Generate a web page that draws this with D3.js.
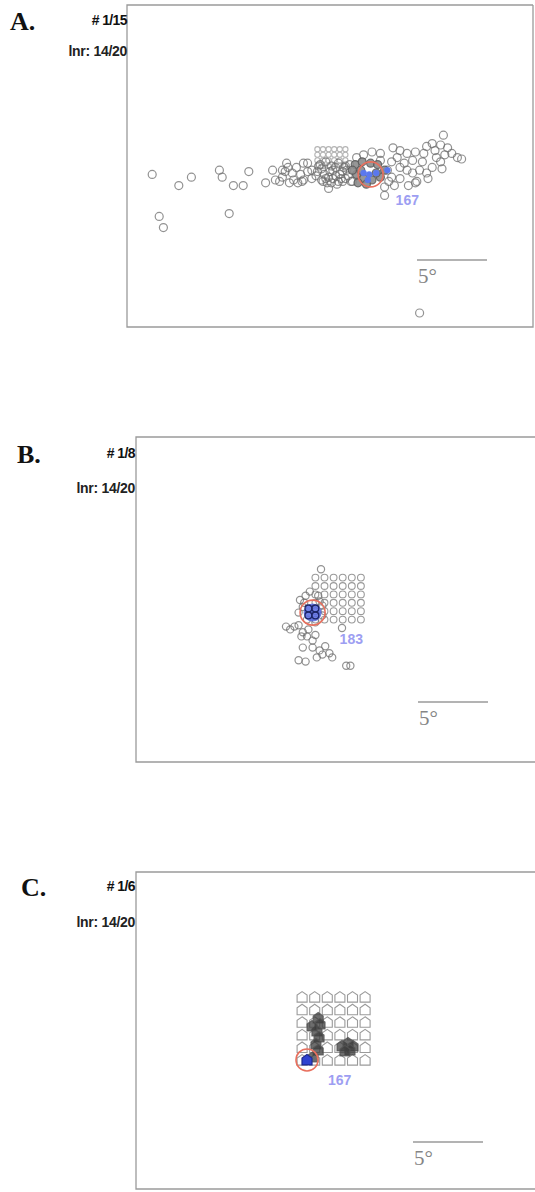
<!DOCTYPE html>
<html>
<head>
<meta charset="utf-8">
<script src="https://cdn.jsdelivr.net/npm/d3@7/dist/d3.min.js"></script>
<style>
  body { margin: 0; background: #fff; }
</style>
</head>
<body>
<div id="fig"></div>
<script>
// ---- data (degrees of visual angle, relative to the panel centre, y up) ----
var panelLabels = ["A.", "B.", "C."];
var trialLabels = ["# 1/15", "# 1/8", "# 1/6"];
var lnrLabels = ["lnr: 14/20", "lnr: 14/20", "lnr: 14/20"];
var targetLabels = ["167", "183", "167"];
var scaleBarDeg = 5;

// panel A
var gridAx = [-0.9, -0.5, -0.1, 0.3, 0.7, 1.1];
var gridAy = [1.2, 0.8, 0.4, 0.0];
var gazeA = [
    [-12.7, -0.6], [-10.8, -1.4], [-9.9, -0.8], [-7.9, -0.3], [-7.7, -0.8], [-6.9, -1.4],
    [-6.2, -1.4], [-5.8, -0.4], [-12.2, -3.6], [-11.9, -4.4], [-7.2, -3.4], [6.4, -10.5],
    [-4.6, -1.2], [-4.1, -0.3], [-3.9, -1.0], [-3.6, -1.1], [-3.4, -0.8], [-3.2, -0.4],
    [-3.0, -0.1], [-2.7, -0.5], [-2.6, -1.0], [-2.4, -0.1], [-2.1, -0.6], [-1.9, -1.0],
    [-1.6, 0.2], [-1.6, -0.4], [-1.3, -0.9], [-2.3, -1.2], [-2.9, -1.2], [-3.1, 0.2],
    [-3.4, -0.3], [-1.9, 0.2], [-2.0, -1.1], [-1.3, -0.3],
    [-0.7, 0.1], [-0.3, 0.3], [0.1, 0.0], [0.6, 0.2], [1.0, -0.1], [1.4, 0.1],
    [-0.9, -0.4], [-0.4, -0.6], [0.0, -0.4], [0.4, -0.7], [0.9, -0.4], [1.3, -0.7],
    [-0.6, -1.0], [-0.2, -1.2], [0.2, -0.9], [0.6, -1.1], [1.1, -0.9], [1.5, -1.1],
    [-0.5, -1.1], [0.1, -1.2], [0.9, -1.1], [1.6, -1.1], [-0.1, -1.6], [3.9, -2.1],
    [-0.6, -0.2], [-0.1, -0.8], [0.4, -0.1], [0.8, -0.9], [1.2, -0.3], [-1.0, -0.7],
    [-0.8, 0.0], [0.2, -0.3], [0.7, -0.6], [1.1, 0.0], [-0.3, -0.9], [0.5, -1.3],
    [3.0, 1.0], [3.6, 0.9], [2.4, 0.8], [1.9, 0.6],
    [4.5, 1.3], [5.0, 1.1], [5.5, 0.9], [6.1, 1.0], [6.9, 1.4], [7.3, 1.6], [8.1, 2.2],
    [7.9, 1.5], [8.4, 1.3], [8.7, 0.9], [9.1, 0.6], [9.4, 0.5], [8.2, 0.8], [7.5, 1.1],
    [4.4, 0.3], [5.0, -0.1], [5.5, -0.3], [5.9, -0.5], [6.4, -0.3], [6.9, -0.5], [7.3, -0.1],
    [7.6, 0.6], [6.2, -1.1], [5.0, -0.9], [4.4, -0.8], [3.9, -1.5], [6.1, -1.2], [5.9, 0.4],
    [6.6, 0.3], [7.9, 0.3], [4.1, -0.3], [4.6, -1.4], [7.0, -0.9], [4.8, 0.6], [5.3, 0.2],
    [6.7, 0.9], [8.0, -0.2], [3.6, 0.4], [4.2, -1.1], [5.6, -1.4]
];
var denseA = [
    [1.8, 0.1], [2.3, 0.3], [2.9, 0.2], [3.4, 0.1], [1.9, -0.6], [2.4, -0.9], [3.0, -1.0],
    [3.6, -0.8], [2.0, -1.2], [2.6, -1.3], [3.9, -0.3], [1.6, -0.3], [2.2, -0.3], [3.3, -0.5]
];
var hitsA = [[2.4, -0.5], [2.8, -0.6], [3.3, -0.5], [2.7, -1.0], [4.1, -0.3]];
var targetA = [2.9, -0.6];

// panel B
var gridBx = [-1.4, -0.75, -0.1, 0.55, 1.2, 1.85];
var gridBy = [1.6, 1.0, 0.4, -0.2, -0.8, -1.4];
var gazeB = [
    [-1.0, 2.2],
    [-2.5, 0.0], [-2.1, 0.3], [-1.8, 0.6], [-1.2, 0.3], [-0.9, -0.4], [-2.3, -0.5],
    [-2.6, -0.9], [-0.9, -1.1], [-1.4, -1.6], [-2.0, -1.4], [-2.2, -0.2], [-1.1, -0.1],
    [-3.2, -2.1], [-2.9, -1.9], [-2.6, -1.8], [-2.3, -2.3], [-2.4, -2.6], [-2.0, -2.6],
    [-1.6, -2.9], [-1.6, -3.4], [0.5, -2.0], [-2.3, -3.4], [-1.1, -3.6], [-0.7, -3.3],
    [-1.3, -4.1], [-0.9, -3.9], [-0.4, -3.8], [-0.2, -4.1], [-2.6, -4.3], [-2.1, -4.4],
    [-3.5, -1.9], [-1.9, -2.1], [-1.4, -2.5],
    [0.8, -4.7], [1.1, -4.7]
];
var hitsB = [[-1.9, -0.6], [-1.4, -0.6], [-1.9, -1.1], [-1.4, -1.1]];
var targetB = [-1.6, -0.9];

// panel C
var gridCx = [-2.35, -1.45, -0.55, 0.35, 1.25, 2.15];
var gridCy = [2.35, 1.45, 0.55, -0.35, -1.25, -2.15];
var denseC = [
    [-1.2, 0.86], [-1.07, 0.43], [-1.29, -0.07], [-1.14, -0.5], [-1.36, -1.0], [-1.2, -1.43],
    [-1.64, 0.29], [0.5, -1.14], [0.93, -0.93], [1.29, -1.14], [1.07, -1.43], [0.71, -1.5],
    [-1.57, -1.93]
];
var hitsC = [[-2.0, -2.14]];
var targetC = [-2.0, -2.14];

// ---- layout ----
var W = 535, H = 1192, pxPerDeg = 14;

var panels = [
    { cx: 330, cy: 166, box: [127, 5, 533, 327], right: true, marker: "circle", r: 4,
      gridX: gridAx, gridY: gridAy, gridR: 2.6, gaze: gazeA, dense: denseA, hits: hitsA, target: targetA,
      labelY: 30, trialY: 25, lnrY: 56, textRight: 127, letterX: 10,
      bar: [417, 260], tag: [25, 31] },
    { cx: 335, cy: 600, box: [136, 437, 545, 762], right: false, marker: "circle", r: 3.6,
      gridX: gridBx, gridY: gridBy, gridR: 3.4, gaze: gazeB, dense: [], hits: hitsB, target: targetB,
      labelY: 463, trialY: 458, lnrY: 493, textRight: 135, letterX: 17,
      bar: [418, 702], tag: [27, 31] },
    { cx: 335, cy: 1030, box: [136, 872, 545, 1189], right: false, marker: "house", r: 5,
      gridX: gridCx, gridY: gridCy, gridR: 5, gaze: [], dense: denseC, hits: hitsC, target: targetC,
      labelY: 896, trialY: 891, lnrY: 927, textRight: 135, letterX: 21,
      bar: [413, 1142], tag: [21, 25] }
];

var svg = d3.select("#fig").append("svg")
    .attr("width", W)
    .attr("height", H)
    .style("display", "block");

function housePath(s) {
    return "M0," + (-1.1 * s) + "L" + s + "," + (-0.4 * s) + "L" + s + "," + s +
        "L" + (-s) + "," + s + "L" + (-s) + "," + (-0.4 * s) + "Z";
}

function drawMarkers(g, data, x, y, p, r, style) {
    if (p.marker === "house") {
        g.selectAll(null).data(data).enter().append("path")
            .attr("d", housePath(r))
            .attr("transform", function (d) { return "translate(" + x(d[0]) + "," + y(d[1]) + ")"; })
            .attr("fill", style.fill)
            .attr("fill-opacity", style.fillOpacity || 1)
            .attr("stroke", style.stroke)
            .attr("stroke-width", style.width || 1.2)
            .attr("stroke-opacity", style.strokeOpacity || 1);
    } else {
        g.selectAll(null).data(data).enter().append("circle")
            .attr("cx", function (d) { return x(d[0]); })
            .attr("cy", function (d) { return y(d[1]); })
            .attr("r", r)
            .attr("fill", style.fill)
            .attr("fill-opacity", style.fillOpacity || 1)
            .attr("stroke", style.stroke)
            .attr("stroke-width", style.width || 1.2)
            .attr("stroke-opacity", style.strokeOpacity || 1);
    }
}

panels.forEach(function (p, i) {
    var g = svg.append("g");
    var x = d3.scaleLinear().domain([0, 1]).range([p.cx, p.cx + pxPerDeg]);
    var y = d3.scaleLinear().domain([0, 1]).range([p.cy, p.cy - pxPerDeg]);
    var b = p.box;

    // frame (open on the right for B and C, cut by the page edge)
    var frame = "M" + b[2] + "," + b[1] + "H" + b[0] + "V" + b[3] + "H" + b[2];
    if (p.right) frame += "V" + b[1];
    g.append("path").attr("d", frame)
        .attr("fill", "none").attr("stroke", "#9a9a9a").attr("stroke-width", 1.3);

    // stimulus grid
    var grid = [];
    p.gridY.forEach(function (gy) { p.gridX.forEach(function (gx) { grid.push([gx, gy]); }); });
    drawMarkers(g, grid, x, y, p, p.gridR,
        { fill: "#fff", stroke: i === 0 ? "#b4b4b4" : "#9a9a9a", width: 1.1 });

    // fixations
    drawMarkers(g, p.gaze, x, y, p, p.r,
        { fill: "none", stroke: "#6e6e6e", strokeOpacity: 0.75, width: 1.2 });
    drawMarkers(g, p.dense, x, y, p, p.r,
        { fill: p.marker === "house" ? "#3c3c3c" : "#8c8c8c", fillOpacity: p.marker === "house" ? 0.75 : 0.9,
          stroke: "#555", strokeOpacity: 0.8, width: 1.2 });

    // target hits
    if (i === 0) {
        drawMarkers(g, p.hits, x, y, p, 3, { fill: "#5a78ee", stroke: "#5a78ee", width: 0.5 });
    } else if (i === 1) {
        g.append("circle").attr("cx", x(p.target[0])).attr("cy", y(p.target[1]))
            .attr("r", 9).attr("fill", "#5668e0").attr("fill-opacity", 0.85);
        drawMarkers(g, p.hits, x, y, p, 3.4,
            { fill: "none", stroke: "#1d2566", width: 1.3 });
    } else {
        drawMarkers(g, p.hits, x, y, p, 5, { fill: "#2f42d0", stroke: "#1f2a90", width: 1.2 });
    }

    // target ring
    g.append("circle")
        .attr("cx", x(p.target[0]))
        .attr("cy", y(p.target[1]))
        .attr("r", i === 2 ? 11 : 12.5)
        .attr("fill", "none")
        .attr("stroke", "#e8705e")
        .attr("stroke-width", 1.6);

    g.append("text")
        .attr("x", x(p.target[0]) + p.tag[0])
        .attr("y", y(p.target[1]) + p.tag[1])
        .style("font", "bold 14px 'Liberation Sans', Arial, sans-serif")
        .style("fill", "#9d9ef2")
        .text(targetLabels[i]);

    // scale bar
    var s = d3.scaleLinear().domain([0, scaleBarDeg]).range([p.bar[0], p.bar[0] + (x(scaleBarDeg) - x(0))]);
    g.append("line")
        .attr("x1", s(0)).attr("x2", s(scaleBarDeg))
        .attr("y1", p.bar[1]).attr("y2", p.bar[1])
        .attr("stroke", "#9a9a9a").attr("stroke-width", 1.6);
    g.append("text")
        .attr("x", s(0) + 1)
        .attr("y", p.bar[1] + 23)
        .style("font", "21px 'Liberation Serif', 'Times New Roman', serif")
        .style("fill", "#858585")
        .text(scaleBarDeg + "\u00b0");

    // panel texts
    g.append("text")
        .attr("x", p.letterX)
        .attr("y", p.labelY)
        .style("font", "bold 26px 'Liberation Serif', 'Times New Roman', serif")
        .style("fill", "#111")
        .text(panelLabels[i]);
    g.append("text")
        .attr("x", p.textRight)
        .attr("y", p.trialY)
        .attr("text-anchor", "end")
        .style("font", "bold 14px 'Liberation Sans', Arial, sans-serif")
        .style("letter-spacing", "-0.6px")
        .style("fill", "#111")
        .text(trialLabels[i]);
    g.append("text")
        .attr("x", p.textRight)
        .attr("y", p.lnrY)
        .attr("text-anchor", "end")
        .style("font", "bold 14px 'Liberation Sans', Arial, sans-serif")
        .style("letter-spacing", "-0.3px")
        .style("fill", "#222")
        .text(lnrLabels[i]);
});
</script>
</body>
</html>
